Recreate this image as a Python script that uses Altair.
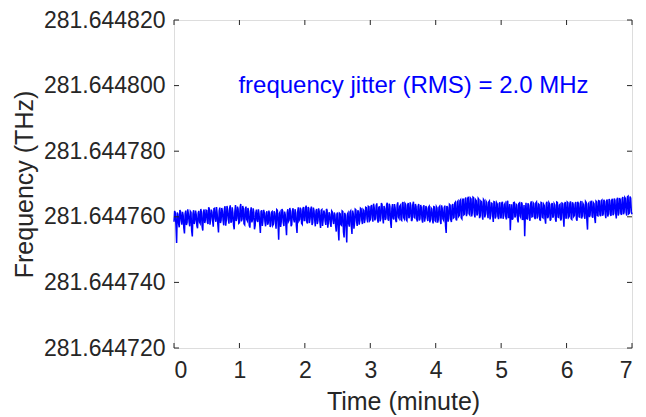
import altair as alt
import pandas as pd

# ---- data ----
BASE_THZ = 281.644760          # centre value of the band, THz
X_TICKS = [0, 1, 2, 3, 4, 5, 6, 7]
Y_TICKS = [281.644720, 281.644740, 281.644760, 281.644780, 281.644800, 281.644820]
ANNOTATION = "frequency jitter (RMS) = 2.0 MHz"
ANN_T = [3.66]
ANN_F = [281.644800]

# frequency offsets from BASE_THZ in MHz
# samples "a": at 0.00, 0.02, 0.04 ... 7.00 minute
a00 = [-1.5, 1.2, -8.0, 0.8, -3.2, 1.6, -2.4, 0.5, -5.1, 1.9, -1.8, 0.9, -2.9, 1.4, -6.0, 2.0, -1.2, 0.6, -3.5, 1.8, -2.0, 1.1, -4.2, 2.2, -1.0]
a01 = [1.9, -2.2, 2.4, -0.8, 1.5, -3.0, 2.6, -1.5, 0.9, -4.8, 2.8, -1.1, 1.7, -2.6, 3.2, -0.9, 2.0, -2.1, 3.5, -1.4, 1.2, -3.8, 3.6, -0.5, 2.4]
a02 = [-1.8, 3.9, -0.7, 2.5, -2.4, 3.1, -1.2, 1.8, -3.3, 2.9, -0.9, 1.4, -2.7, 2.2, -1.6, 0.9, -4.9, 2.0, -1.0, 1.3, -2.9, 1.7, -1.9, 0.8, -2.5]
a03 = [1.6, -2.2, 1.1, -3.6, 2.0, -7.0, 1.4, -1.3, 1.9, -2.8, 0.7, -5.6, 2.3, -1.0, 1.5, -2.4, 2.6, -1.7, 1.2, -4.9, 2.9, -0.8, 2.1, -2.3, 3.0]
a04 = [-1.1, 3.4, -2.0, 2.6, -0.6, 3.1, -1.8, 1.9, -2.9, 2.4, -1.2, 1.6, -3.4, 2.2, -0.9, 1.3, -2.5, 2.0, -1.6, 0.8, -3.1, 1.5, -2.2, 0.6, -4.5]
a05 = [1.3, -7.2, 0.9, -2.6, 1.6, -6.3, 0.4, -7.8, 1.2, -3.0, 1.8, -5.2, 0.9, -1.9, 2.1, -2.8, 1.5, -1.2, 2.4, -2.2, 1.9, -0.8, 2.8, -1.7, 3.1]
a06 = [-0.9, 3.6, -1.5, 2.8, -0.4, 4.1, -1.8, 3.0, -0.6, 3.7, -2.0, 2.5, -0.3, 4.3, -1.2, 3.2, -3.4, 3.9, -0.8, 2.7, -1.6, 4.4, -0.5, 3.5, -1.1]
a07 = [4.5, -0.6, 3.8, -1.2, 4.2, 0.1, 3.4, -0.9, 4.6, -0.3, 3.1, -1.4, 3.9, -0.5, 2.8, -1.8, 3.5, -0.2, 2.6, -1.3, 3.2, -0.8, 2.4, -2.0, 3.0]
a08 = [-1.4, 2.7, -0.8, 3.2, -2.2, 2.5, -1.0, 3.4, -4.9, 2.9, -0.5, 3.6, -1.6, 3.9, -0.2, 4.4, -1.1, 4.8, 0.4, 5.2, -0.6, 5.6, 0.8, 5.9, 1.2]
a09 = [6.1, 0.6, 5.4, 1.3, 5.8, -0.2, 4.9, 1.0, 5.3, 0.2, 4.6, -0.9, 5.0, 0.7, 4.3, -0.4, 4.8, 0.3, 4.1, -1.6, 4.5, 0.1, 3.9, -0.7, 4.4]
a10 = [-0.3, 4.6, 0.4, 4.1, -0.8, 4.9, 0.2, -4.1, 3.8, -0.5, 4.4, 0.3, 3.6, -1.7, 4.2, -0.2, 3.9, 0.5, -5.9, 4.3, -0.6, 3.5, -1.2, 4.7, 0.1]
a11 = [4.0, -0.7, 4.5, 0.2, 3.7, -1.0, 4.3, -0.3, 3.4, -2.1, 4.6, 0.0, 3.9, -0.8, 4.2, 0.3, 3.6, -1.5, 4.4, -0.2, 3.8, -0.6, 4.1, -3.0, 4.5]
a12 = [-0.4, 4.3, 0.1, 4.7, -0.8, 3.9, 0.4, 4.5, -1.2, 4.1, -0.1, 4.8, 0.2, 3.7, -0.6, 4.4, -3.9, 4.2, 0.5, 4.9, -0.3, 4.0, -1.9, 4.6, 0.3]
a13 = [4.8, 0.2, 5.1, 0.8, 4.6, -0.4, 5.3, 1.0, 4.9, 0.3, 5.5, 0.9, 5.0, -0.5, 5.8, 1.2, 5.2, 0.6, 6.0, 1.4, 5.6, 0.4, 6.3, 1.1, 5.7, 0.8]

# samples "b": at 0.01, 0.03, 0.05 ... 6.99 minute
b00 = [1.8, -2.6, 1.3, -2.0, 2.1, -1.1, 1.5, -3.4, 1.0, -2.5, 2.3, -1.4, 1.7, -4.3, 0.9, -2.2, 1.9, -2.8, 1.2, -1.6, 2.4, -3.0, 1.6, -1.9, 2.0]
b01 = [-1.7, 2.9, -2.4, 2.2, -1.2, 2.5, -0.6, 3.0, -2.3, 1.8, -1.9, 2.7, -1.0, 2.4, -2.7, 3.3, -0.7, 2.6, -1.8, 2.9, -2.5, 1.6, -1.3, 3.1, -2.0]
b02 = [2.8, -1.4, 3.3, -2.1, 2.4, -0.8, 2.7, -2.6, 1.5, -1.7, 2.6, -3.8, 1.2, -1.1, 2.3, -2.2, 1.6, -2.8, 2.1, -1.5, 1.1, -2.4, 1.9, -3.1, 1.4]
b03 = [-2.6, 1.7, -1.5, 2.2, -2.0, 1.0, -3.1, 2.4, -1.8, 1.6, -2.5, 1.3, -1.4, 2.7, -2.9, 1.9, -0.9, 2.3, -2.6, 1.5, -1.2, 2.8, -2.0, 2.5, -1.1]
b04 = [2.7, -1.6, 3.0, -1.9, 2.3, -2.5, 2.8, -0.9, 1.7, -2.2, 2.6, -1.5, 2.0, -2.8, 1.9, -1.3, 2.4, -3.3, 1.4, -2.0, 1.8, -1.1, 1.3, -2.7, 0.9]
b05 = [-3.9, 1.1, -2.4, 1.8, -4.6, 1.2, -3.3, 0.8, -2.1, 1.5, -2.7, 1.9, -3.6, 2.3, -1.3, 2.0, -2.4, 2.6, -1.0, 2.2, -1.9, 2.9, -0.6, 3.2, -1.2]
b06 = [3.1, -0.3, 4.0, -1.1, 3.4, -0.7, 2.9, -1.4, 4.2, -0.2, 3.3, -1.0, 3.8, -0.6, 4.0, -1.5, 2.6, -0.4, 3.9, -1.2, 3.6, -0.1, 3.2, -0.9, 4.1]
b07 = [-0.2, 4.1, -0.9, 3.5, -0.4, 4.4, -1.3, 3.7, -0.1, 3.9, -0.8, 3.2, -1.1, 3.6, -0.7, 3.0, -1.5, 3.3, -0.5, 2.9, -1.7, 2.7, -0.9, 3.1, -1.2]
b08 = [3.1, -1.8, 2.9, -1.2, 3.5, -0.6, 2.8, -2.7, 3.3, -1.5, 3.8, -0.9, 3.4, -0.4, 4.1, -0.7, 4.5, 0.1, 4.9, -0.3, 5.1, 0.6, 5.4, 0.2, 5.7]
b09 = [0.9, 5.7, 0.1, 6.0, 0.8, 5.2, 0.4, 5.6, -0.4, 4.8, 0.5, 5.3, -0.2, 4.7, 0.9, 4.5, -0.8, 4.2, 0.6, 4.6, -0.5, 4.3, 0.2, 4.0, -0.3]
b10 = [4.2, -0.6, 3.7, 0.1, 4.5, -0.4, 3.9, 1.0, -0.9, 4.3, -0.2, 3.8, -0.7, 4.0, 0.2, 4.4, -1.0, 3.6, 1.1, -0.5, 4.1, -0.3, 3.9, 0.0, 4.3]
b11 = [-0.2, 4.2, -0.5, 3.9, -0.9, 4.4, -0.1, 3.8, -0.6, 4.1, -0.4, 4.3, -1.2, 3.7, -0.3, 4.0, -0.8, 4.5, -0.1, 3.6, -1.1, 4.2, 0.1, 3.9, -0.4]
b12 = [4.5, -0.2, 4.0, -0.6, 4.4, 0.1, 3.8, -0.7, 4.6, 0.0, 4.2, -0.5, 4.1, 0.3, 4.7, -1.0, 3.9, -0.1, 4.5, 0.2, 4.3, -0.4, 4.8, 0.4, 4.9]
b13 = [0.6, 4.9, 0.3, 5.2, 0.9, 4.8, 0.1, 5.4, 0.7, 5.1, 0.5, 5.6, 1.1, 5.3, 0.4, 5.7, 1.0, 5.5, 0.8, 5.9, 1.3, 6.1, 0.9, 6.2, 1.5]

a_vals = a00 + a01 + a02 + a03 + a04 + a05 + a06 + a07 + a08 + a09 + a10 + a11 + a12 + a13
b_vals = b00 + b01 + b02 + b03 + b04 + b05 + b06 + b07 + b08 + b09 + b10 + b11 + b12 + b13

STEP = 0.02
a_t = [round(STEP * i, 3) for i in range(len(a_vals))]
b_t = [round(STEP * i + STEP / 2, 3) for i in range(len(b_vals))]

df = pd.DataFrame({"t": a_t + b_t, "off": a_vals + b_vals}).sort_values("t")
df["f"] = BASE_THZ + df["off"] * 1e-6

xt = pd.DataFrame({"t": X_TICKS})
yt = pd.DataFrame({"f": Y_TICKS})
ann = pd.DataFrame({"t": ANN_T, "f": ANN_F, "label": [ANNOTATION]})

FONT = "Liberation Sans"
AX = "#262626"
W, H = 458, 328
TL = 5

xscale = alt.Scale(domain=[0, 7], nice=False, zero=False)
yscale = alt.Scale(domain=[281.644720, 281.644820], nice=False, zero=False)

xaxis = alt.Axis(values=X_TICKS, format="d", title="Time (minute)", ticks=False,
                 domain=False, grid=False, labelFont=FONT, labelFontSize=23,
                 labelColor=AX, labelPadding=11, titleFont=FONT, titleFontSize=25,
                 titleFontWeight="normal", titleColor=AX, titlePadding=7)
yaxis = alt.Axis(values=Y_TICKS, format=".6f", title="Frequency (THz)", ticks=False,
                 domain=False, grid=False, labelFont=FONT, labelFontSize=23,
                 labelColor=AX, labelPadding=9, titleFont=FONT, titleFontSize=25,
                 titleFontWeight="normal", titleColor=AX, titlePadding=6)

line = alt.Chart(df).mark_line(color="#0000ff", strokeWidth=1.5).encode(
    x=alt.X("t:Q", scale=xscale, axis=xaxis),
    y=alt.Y("f:Q", scale=yscale, axis=yaxis),
    order="t:Q",
)

xt_bottom = alt.Chart(xt).mark_rule(color=AX, strokeWidth=1).encode(
    x="t:Q", y=alt.value(H), y2=alt.value(H - TL))
xt_top = alt.Chart(xt).mark_rule(color=AX, strokeWidth=1).encode(
    x="t:Q", y=alt.value(0), y2=alt.value(TL))
yt_left = alt.Chart(yt).mark_rule(color=AX, strokeWidth=1).encode(
    y="f:Q", x=alt.value(0), x2=alt.value(TL))
yt_right = alt.Chart(yt).mark_rule(color=AX, strokeWidth=1).encode(
    y="f:Q", x=alt.value(W), x2=alt.value(W - TL))

text = alt.Chart(ann).mark_text(font=FONT, fontSize=24, color="#0000ff",
                                align="center", baseline="middle").encode(
    x="t:Q", y="f:Q", text="label:N")

chart = alt.layer(line, xt_bottom, xt_top, yt_left, yt_right, text).properties(
    width=W, height=H,
    autosize=alt.AutoSizeParams(type="none"),
    padding={"left": 166, "top": 12, "right": 6, "bottom": 75},
).configure_view(stroke=AX, strokeWidth=1).configure(background="white")

chart.save("out.html", embed_options={"renderer": "svg", "actions": False})
